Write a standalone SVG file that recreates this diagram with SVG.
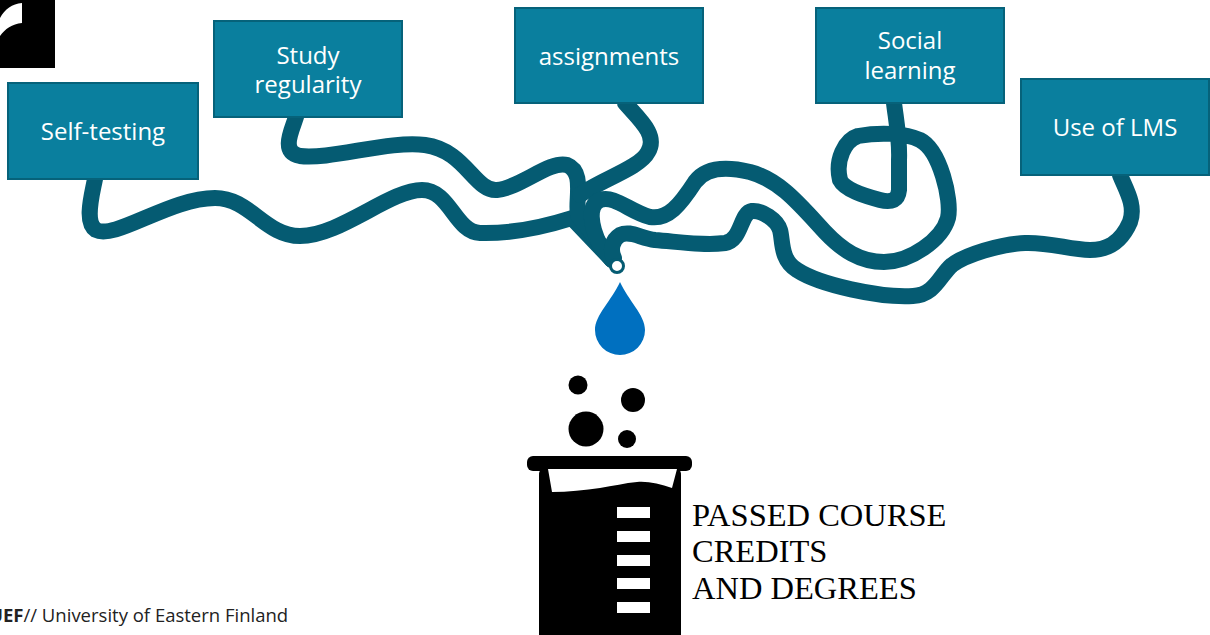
<svg xmlns="http://www.w3.org/2000/svg" width="1210" height="635" viewBox="0 0 1210 635">
  <style>
    .box { fill: #0a7f9e; stroke: #06627a; stroke-width: 2; }
    .lbl { font-family: "Open Sans", "Noto Sans", sans-serif; font-size: 24px; fill: #ffffff; text-anchor: middle; }
    .pipe { fill: none; stroke: #055b72; stroke-width: 16; stroke-linecap: round; stroke-linejoin: round; }
    .result { font-family: "Liberation Serif", "Times New Roman", serif; font-size: 32.5px; fill: #000000; }
    .footer { font-family: "Open Sans", "Noto Sans", sans-serif; font-size: 18.5px; fill: #222222; }
  </style>

  <rect width="1210" height="635" fill="#ffffff"/>

  <!-- corner logo mark -->
  <g id="logo">
    <rect x="0" y="0" width="55" height="68" fill="#000000"/>
    <path d="M 22 3 L 22 23 C 12 24 5 29 0 36 L 0 18 C 5 9 12 4 22 3 Z" fill="#ffffff"/>
  </g>

  <!-- pipes running from each factor into the beaker -->
  <g id="connectors">
    <path class="pipe" d="M 95 179 C 92 195 84 222 96 230 C 115 240 170 198 215 198 C 250 198 265 236 300 236 C 340 236 390 190 422 190 C 450 190 455 232 480 233 C 515 234 550 225 572 218 L 612 260"/>
    <path class="pipe" d="M 296 117 C 292 130 280 152 300 156 C 330 160 390 140 425 145 C 465 150 475 192 497 190 C 520 188 550 160 567 165 C 585 172 575 200 578 215 L 612 260"/>
    <path class="pipe" d="M 625 103 C 640 120 658 135 648 152 C 640 168 600 180 580 195"/>
    <path class="pipe" d="M 894 103 C 896 120 900 140 899 160 L 899 190 C 898 200 892 203 880 200 C 865 196 845 190 840 180 C 835 160 845 140 858 136 C 880 132 905 133 920 140 C 940 150 952 200 948 218 C 942 240 910 262 884 262 C 860 262 842 250 825 232 C 800 205 780 180 750 172 C 725 166 705 168 695 182 C 680 205 668 220 650 217 C 630 212 615 195 600 200 C 588 205 590 225 600 245 L 612 260"/>
    <path class="pipe" d="M 1120 175 C 1126 190 1136 205 1130 222 C 1120 245 1105 250 1090 250 C 1070 250 1050 242 1025 243 C 1000 244 965 255 952 265 C 940 275 935 295 913 296 C 880 298 820 285 797 270 C 780 260 783 240 780 230 C 777 220 762 210 752 211 C 740 213 742 240 725 243 C 705 246 680 242 655 240 C 640 238 630 230 620 235 C 612 240 610 250 614 258"/>
    <circle cx="617" cy="266" r="6.5" fill="#ffffff" stroke="#055b72" stroke-width="3"/>
  </g>

  <!-- drop falling from the pipe -->
  <path id="drop" d="M 620 282 C 612 300 595 315 595 330 A 25 25 0 0 0 645 330 C 645 315 628 300 620 282 Z" fill="#0070c0"/>

  <!-- factor nodes -->
  <g id="node-self-testing">
    <rect class="box" x="8" y="83" width="190" height="96"/>
    <text class="lbl" x="103" y="140">Self-testing</text>
  </g>
  <g id="node-study-regularity">
    <rect class="box" x="214" y="21" width="188" height="96"/>
    <text class="lbl" x="308" y="64">Study</text>
    <text class="lbl" x="308" y="93">regularity</text>
  </g>
  <g id="node-assignments">
    <rect class="box" x="515" y="8" width="188" height="95"/>
    <text class="lbl" x="609" y="65">assignments</text>
  </g>
  <g id="node-social-learning">
    <rect class="box" x="816" y="8" width="188" height="95"/>
    <text class="lbl" x="910" y="49">Social</text>
    <text class="lbl" x="910" y="79">learning</text>
  </g>
  <g id="node-use-of-lms">
    <rect class="box" x="1021" y="79" width="188" height="96"/>
    <text class="lbl" x="1115" y="136">Use of LMS</text>
  </g>

  <!-- beaker with bubbles -->
  <g id="beaker">
    <circle cx="578" cy="385" r="9.5" fill="#000000"/>
    <circle cx="633" cy="400" r="12" fill="#000000"/>
    <circle cx="586" cy="429" r="17.5" fill="#000000"/>
    <circle cx="627" cy="439" r="9" fill="#000000"/>
    <rect x="527" y="456" width="165" height="15" rx="6" fill="#000000"/>
    <rect x="539" y="463" width="142" height="185" rx="12" fill="#000000"/>
    <path d="M 548 469 L 677 469 L 672 488 C 660 484 648 481 637 482 C 625 483 613 486 600 488 C 585 490 568 492 552 492 Z" fill="#ffffff"/>
    <rect x="617" y="507" width="33" height="11" fill="#ffffff"/>
    <rect x="617" y="531" width="33" height="11" fill="#ffffff"/>
    <rect x="617" y="555" width="33" height="11" fill="#ffffff"/>
    <rect x="617" y="578" width="33" height="11" fill="#ffffff"/>
    <rect x="617" y="602" width="33" height="11" fill="#ffffff"/>
  </g>

  <g id="result">
    <text class="result" x="692" y="526">PASSED COURSE</text>
    <text class="result" x="692" y="562">CREDITS</text>
    <text class="result" x="692" y="599">AND DEGREES</text>
  </g>

  <text class="footer" x="-11" y="622"><tspan font-weight="bold">UEF</tspan>// University of Eastern Finland</text>
</svg>
